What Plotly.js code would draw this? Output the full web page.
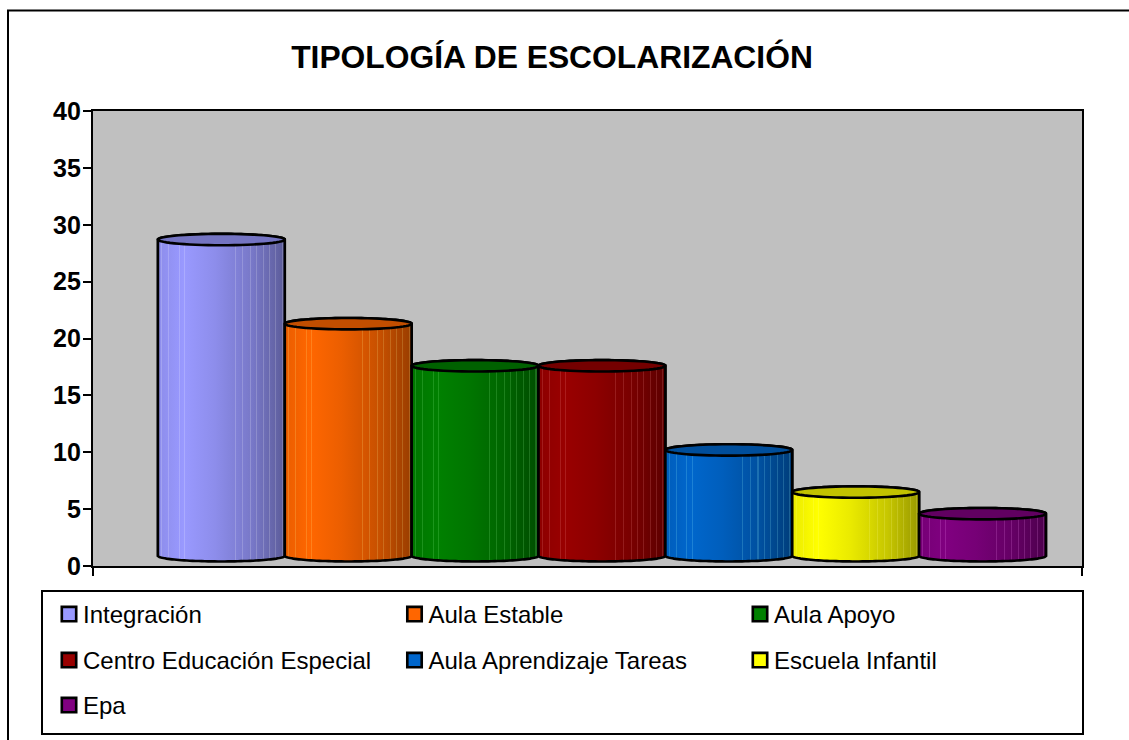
<!DOCTYPE html>
<html><head><meta charset="utf-8">
<script src="https://cdn.plot.ly/plotly-3.0.1.min.js"></script>
<style>html,body{margin:0;padding:0;background:#fff;overflow:hidden}#c{width:1129px;height:740px}</style>
</head><body><div id="c"></div>
<script>
const categories = ['Integración','Aula Estable','Aula Apoyo','Centro Educación Especial','Aula Aprendizaje Tareas','Escuela Infantil','Epa'];
const values = [27.8,20.4,16.7,16.7,9.3,5.6,3.7];
const colors = [[153,153,255],[255,102,0],[0,128,0],[153,0,0],[0,102,204],[255,255,0],[128,0,128]];
const legendRow = ['legend','legend','legend','legend2','legend2','legend2','legend3'];
const yTicks = [0,5,10,15,20,25,30,35,40];
const stripes = [.03,.085,.17,.21,.61,.67,.73,.78,.83,.88,.93,.98];
const baseOffset = 0.9, capHalfHeight = 0.5;

const W=1129,H=740,L=93,R=1082,T=111,B=566;
const px = x=>(x-L)/(R-L), py = y=>(B-y)/(B-T);
const shade=(c,f)=>`rgb(${c.map(v=>Math.round(v*f)).join(',')})`;
const knots=[[0,0.92],[0.2,1],[0.45,0.92],[0.75,0.78],[1,0.6]];
function level(t){for(let k=1;k<knots.length;k++){if(t<=knots[k][0]){const a=knots[k-1],b=knots[k];return a[1]+(b[1]-a[1])*(t-a[0])/(b[0]-a[0]);}}return 0.6;}
function bodyScale(c){
  const out=[];let last=0;
  const plain=t=>shade(c,level(t));
  const lit=t=>{const f=level(t);return `rgb(${c.map(v=>Math.round(v*f*0.82+255*0.18*(v>0?1:0.6))).join(',')})`;};
  const add=(t)=>{knots.forEach(k=>{if(k[0]>last&&k[0]<t)out.push([k[0],plain(k[0])]);});};
  out.push([0,plain(0)]);
  stripes.forEach(s=>{add(s-0.004);out.push([s-0.004,plain(s)],[s-0.004,lit(s)],[s+0.004,lit(s)],[s+0.004,plain(s)]);last=s+0.004;});
  out.push([1,plain(1)]);
  return out;
}
const xRange=[-1.012,6.784];
const N=60;
function arc(cx,cy,a0,a1){const xs=[],ys=[];for(let k=0;k<=N;k++){const a=a0+(a1-a0)*k/N;xs.push(cx+0.5*Math.cos(a));ys.push(cy+capHalfHeight*Math.sin(a));}return [xs,ys];}
const traces=[];
categories.forEach((name,i)=>{
  traces.push({type:'bar',name,x:[i],y:[values[i]],base:[baseOffset],width:[1],legend:legendRow[i],
    marker:{color:shade(colors[i],1),line:{color:'#000',width:2.4}},hoverinfo:'name+y'});
});
categories.forEach((name,i)=>{
  const top=values[i]+baseOffset;
  const [ux,uy]=arc(i,top,Math.PI,0), [lx,ly]=arc(i,baseOffset,0,-Math.PI);
  const c=colors[i];
  traces.push({type:'scatter',mode:'lines',x:[...ux,...lx,ux[0]],y:[...uy,...ly,uy[0]],fill:'toself',showlegend:false,hoverinfo:'skip',
    line:{color:'#000',width:2.6,simplify:false},
    fillgradient:{type:'horizontal',colorscale:bodyScale(c)}});
  const [ex,ey]=arc(i,top,0,2*Math.PI);
  traces.push({type:'scatter',mode:'lines',x:ex,y:ey,fill:'toself',fillcolor:shade(c,0.76),showlegend:false,hoverinfo:'skip',
    line:{color:'#000',width:2.6,simplify:false}});
});
const legendBase=(y)=>({orientation:'h',x:px(43),y:py(y),xanchor:'left',yanchor:'middle',bgcolor:'rgba(0,0,0,0)',borderwidth:0,
  entrywidth:300.5,entrywidthmode:'pixels',itemclick:false,itemdoubleclick:false,traceorder:'normal',
  font:{family:'Liberation Sans, Arial, sans-serif',size:24,color:'#000'}});
const layout={width:W,height:H,paper_bgcolor:'#fff',plot_bgcolor:'#c0c0c0',
  margin:{l:L,r:W-R,t:T,b:H-B,pad:0,autoexpand:false},barmode:'overlay',hovermode:'closest',
  title:{text:'TIPOLOGÍA DE ESCOLARIZACIÓN',x:552/W,xanchor:'center',y:1-57/H,yanchor:'middle',
    font:{family:'Liberation Sans, Arial, sans-serif',size:31.8,weight:700,color:'#000'}},
  xaxis:{range:xRange,showgrid:false,zeroline:false,showline:true,mirror:true,linecolor:'#000',linewidth:2.4,
    ticks:'outside',ticklen:8,tickwidth:2,tickcolor:'#000',tickmode:'array',tickvals:xRange,showticklabels:false},
  yaxis:{range:[0,40],showgrid:false,zeroline:false,showline:true,mirror:true,linecolor:'#000',linewidth:2.4,
    ticks:'outside',ticklen:8,tickwidth:2,tickcolor:'#000',tickmode:'array',tickvals:yTicks,ticktext:yTicks.map(String),ticklabelstandoff:-3,
    tickfont:{family:'Liberation Sans, Arial, sans-serif',size:25,weight:700,color:'#000'}},
  legend:legendBase(614.5),legend2:legendBase(660.5),legend3:legendBase(705.5),
  shapes:[
    {type:'rect',xref:'paper',yref:'paper',x0:px(8),x1:px(W+20),y0:py(10.5),y1:py(H+20),line:{color:'#000',width:2},fillcolor:'rgba(0,0,0,0)',layer:'below'},
    {type:'rect',xref:'paper',yref:'paper',x0:px(42),x1:px(1083),y0:py(591),y1:py(734),line:{color:'#000',width:2},fillcolor:'#fff',layer:'below'}
  ]};
Plotly.newPlot('c',traces,layout,{displayModeBar:false,responsive:false}).then(gd=>{
  gd.querySelectorAll('.legendsymbols path').forEach(p=>{
    const t=p.getAttribute('transform')||'';
    p.setAttribute('transform',t+' translate(6,0) scale(1.2)');
    p.style.strokeWidth='2.2px';
  });
});
</script></body></html>
